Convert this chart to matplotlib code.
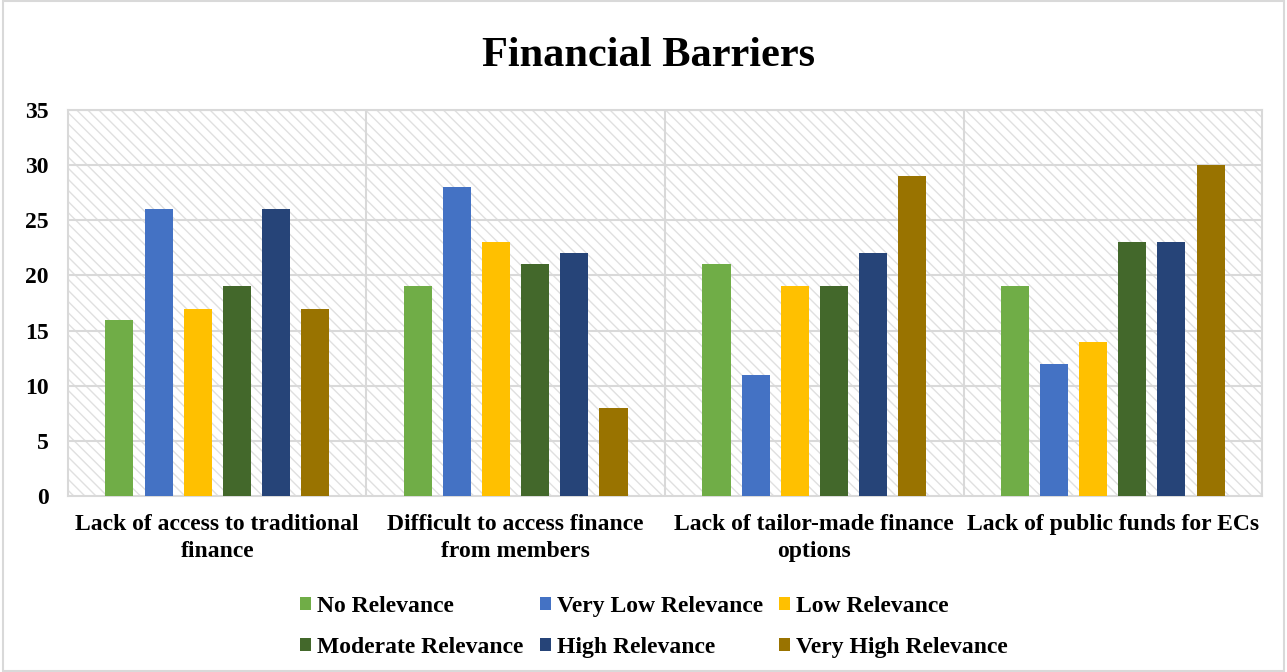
import numpy as np
from matplotlib import pyplot as plt
from matplotlib.patches import Rectangle, Patch

categories = ["Lack of access to traditional\nfinance",
              "Difficult to access finance\nfrom members",
              "Lack of tailor-made finance\noptions",
              "Lack of public funds for ECs"]
series_names = ["No Relevance", "Very Low Relevance", "Low Relevance",
                "Moderate Relevance", "High Relevance", "Very High Relevance"]
no_rel = [16, 19, 21, 19]
very_low = [26, 28, 11, 12]
low = [17, 23, 19, 14]
moderate = [19, 21, 19, 23]
high = [26, 22, 22, 23]
very_high = [17, 8, 29, 30]
colors = ["#70AD47", "#4472C4", "#FFC000", "#43682B", "#264478", "#997300"]

plt.rcParams['font.family'] = ['Liberation Serif', 'DejaVu Serif']
plt.rcParams['hatch.linewidth'] = 1.0

fig = plt.figure(figsize=(12.87, 6.72), dpi=100)
ax = fig.add_axes([0.0528, 0.2619, 0.9278, 0.5744])

# hatched plot background
ax.add_patch(Rectangle((0, 0), 1, 1, transform=ax.transAxes, facecolor='white',
                       edgecolor='#e0e0e0', hatch='\\\\\\', linewidth=0, zorder=0))

values = [no_rel, very_low, low, moderate, high, very_high]
x = np.arange(len(categories))
width = 0.094
step = 0.131
for i, (vals, col) in enumerate(zip(values, colors)):
    ax.bar(x + (i - 2.5) * step, vals, width, color=col, zorder=3, label=series_names[i])

ax.set_xlim(-0.5, 3.5)
ax.set_ylim(0, 35)
ax.set_yticks(range(0, 36, 5))
ax.set_xticks(x)
ax.set_xticklabels(categories, fontsize=17, fontweight='bold', linespacing=1.35)
for lab in ax.get_yticklabels():
    lab.set_fontsize(17)
    lab.set_fontweight('bold')
ax.tick_params(length=0)
ax.tick_params(axis='y', pad=14)
ax.tick_params(axis='x', pad=13)

for yv in range(5, 36, 5):
    ax.axhline(yv, color='#d9d9d9', linewidth=1.5, zorder=1)
for xv in [0.5, 1.5, 2.5]:
    ax.axvline(xv, color='#d9d9d9', linewidth=1.5, zorder=1)
for sp in ax.spines.values():
    sp.set_color('#d9d9d9')
    sp.set_linewidth(1.5)

fig.text(0.504, 0.916, "Financial Barriers", ha='center', va='center',
         fontsize=30.5, fontweight='bold')

handles = [Patch(facecolor=c) for c in colors]
order = [0, 3, 1, 4, 2, 5]
fig.legend([handles[k] for k in order], [series_names[k] for k in order],
           ncol=3, loc='center', bbox_to_anchor=(0.508, 0.067), frameon=False,
           prop={'size': 17, 'weight': 'bold'}, handlelength=0.47, handleheight=0.47,
           handletextpad=0.25, columnspacing=0.7, labelspacing=0.84,
           borderpad=0, borderaxespad=0)

fig.add_artist(Rectangle((0.002, 0.002), 0.996, 0.996, transform=fig.transFigure,
                         fill=False, edgecolor='#d9d9d9', linewidth=1.5))

plt.savefig("out.png", dpi=100)
